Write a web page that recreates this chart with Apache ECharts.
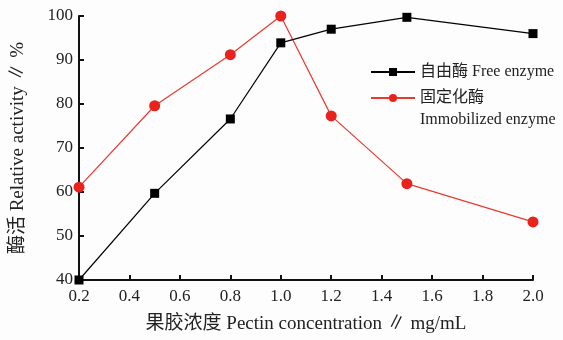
<!DOCTYPE html>
<html>
<head>
<meta charset="utf-8">
<script src="https://cdn.jsdelivr.net/npm/echarts@6/dist/echarts.min.js"></script>
<style>
html,body{margin:0;padding:0;background:#fdfdfd;}
#chart{width:563px;height:340px;}
</style>
</head>
<body>
<div id="chart"></div>
<script>
const concentrations = [0.2, 0.5, 0.8, 1.0, 1.2, 1.5, 2.0];
const freeEnzyme = [40.0, 59.7, 76.6, 93.9, 97.0, 99.7, 96.0];
const immobilizedEnzyme = [61.1, 79.6, 91.2, 100, 77.3, 61.9, 53.2];
const seriesNames = ['自由酶 Free enzyme', '固定化酶 Immobilized enzyme'];
const legendLines = [['自由酶 Free enzyme'], ['固定化酶', 'Immobilized enzyme']];
const xAxisTitle = '果胶浓度 Pectin concentration ∥ mg/mL';
const yAxisTitle = '酶活 Relative activity ∥ %';

const FONT = "'Liberation Serif', 'Noto Sans CJK SC', serif";
const chart = echarts.init(document.getElementById('chart'), null, {renderer: 'canvas'});

function pairs(xs, ys) { return xs.map((x, i) => [x, ys[i]]); }

chart.setOption({
  backgroundColor: '#fdfdfd',
  animation: false,
  grid: {left: 79, right: 30, top: 16, bottom: 60, containLabel: false},
  legend: {
    orient: 'vertical',
    left: 365,
    top: 56,
    itemWidth: 44,
    itemHeight: 10,
    itemGap: -18,
    textStyle: {
      fontFamily: FONT, fontSize: 16, color: '#222', lineHeight: 22,
      rich: {
        blank: {fontFamily: FONT, fontSize: 16, lineHeight: 22},
        t: {fontFamily: FONT, fontSize: 16, lineHeight: 22, color: '#222'}
      }
    },
    formatter: function (name) {
      const idx = seriesNames.indexOf(name);
      const lines = legendLines[idx];
      if (lines.length === 1) return lines[0];
      return '{blank| }\n{t|' + lines[0] + '}\n{t|' + lines[1] + '}';
    },
    data: seriesNames
  },
  xAxis: {
    type: 'value',
    min: 0.2,
    max: 2.0,
    interval: 0.2,
    name: xAxisTitle,
    nameLocation: 'middle',
    nameGap: 35,
    nameTextStyle: {fontFamily: FONT, fontSize: 19, color: '#222'},
    axisLine: {lineStyle: {color: '#111', width: 2}},
    axisTick: {inside: true, length: 5, lineStyle: {color: '#111', width: 2}},
    axisLabel: {fontFamily: FONT, fontSize: 17, color: '#222', margin: 8,
      formatter: v => v.toFixed(1)},
    splitLine: {show: false}
  },
  yAxis: {
    type: 'value',
    min: 40,
    max: 100,
    interval: 10,
    name: yAxisTitle,
    nameLocation: 'middle',
    nameGap: 51,
    nameTextStyle: {fontFamily: FONT, fontSize: 19, color: '#222'},
    axisLine: {show: true, lineStyle: {color: '#111', width: 2}},
    axisTick: {show: true, inside: true, length: 5, lineStyle: {color: '#111', width: 2}},
    axisLabel: {fontFamily: FONT, fontSize: 17, color: '#222', margin: 6},
    splitLine: {show: false}
  },
  series: [
    {
      name: seriesNames[0],
      type: 'line',
      data: pairs(concentrations, freeEnzyme),
      symbol: 'rect',
      symbolSize: 9,
      clip: false,
      itemStyle: {color: '#000'},
      lineStyle: {color: '#000', width: 1.2},
      z: 3
    },
    {
      name: seriesNames[1],
      type: 'line',
      data: pairs(concentrations, immobilizedEnzyme),
      symbol: 'circle',
      symbolSize: 11,
      clip: false,
      itemStyle: {color: '#e8221c'},
      lineStyle: {color: '#ea3a30', width: 1.2},
      z: 2
    }
  ]
});
</script>
</body>
</html>
